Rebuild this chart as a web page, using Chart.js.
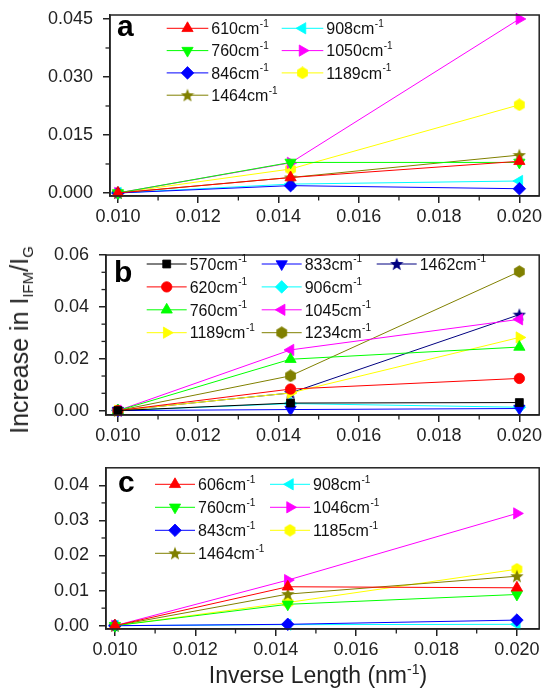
<!DOCTYPE html>
<html><head><meta charset="utf-8">
<script src="https://cdn.jsdelivr.net/npm/chart.js@4/dist/chart.umd.min.js"></script>
<style>
html,body{margin:0;padding:0;background:#fff;}
#wrap{position:relative;width:547px;height:690px;overflow:hidden;font-family:"Liberation Sans",Arial,sans-serif;color:#222;}
.cv{position:absolute;left:0;width:547px;height:230px;}
#ytitle{position:absolute;left:19px;top:340px;transform:translate(-50%,-50%) rotate(-90deg);font-size:25px;line-height:30px;white-space:nowrap;}
#ytitle sub{font-size:15px;position:relative;top:5px;vertical-align:baseline;line-height:0;}
#xtitle{position:absolute;left:318px;top:661px;transform:translateX(-50%);font-size:23px;line-height:28px;white-space:nowrap;}
#xtitle sup{font-size:14px;position:relative;top:-9px;vertical-align:baseline;line-height:0;}
</style></head>
<body><div id="wrap">
<div class="cv" style="top:0px"><canvas id="ca" width="547" height="230"></canvas></div>
<div class="cv" style="top:230px"><canvas id="cb" width="547" height="230"></canvas></div>
<div class="cv" style="top:460px"><canvas id="cc" width="547" height="230"></canvas></div>
<div id="ytitle">Increase in I<sub>IFM</sub>/I<sub>G</sub></div>
<div id="xtitle">Inverse Length (nm<sup>-1</sup>)</div>
</div>
<script>
// ---------------- data ----------------
const xValues = [0.010, 0.0143, 0.020];
const xTickValues = [0.010, 0.012, 0.014, 0.016, 0.018, 0.020];
const xTickLabels = ['0.010', '0.012', '0.014', '0.016', '0.018', '0.020'];
const xMinorValues = [0.011, 0.013, 0.015, 0.017, 0.019];

// panel a
const aNames = ['610', '760', '846', '1464', '908', '1050', '1189'];
const a610 = [0, 0.0040, 0.0082];
const a760 = [0, 0.0079, 0.0079];
const a846 = [0, 0.0019, 0.0011];
const a1464 = [0, 0.0040, 0.0098];
const a908 = [0, 0.0023, 0.0031];
const a1050 = [0, 0.0078, 0.0450];
const a1189 = [0, 0.0062, 0.0228];
const aYTickValues = [0, 0.015, 0.030, 0.045];
const aYTickLabels = ['0.000', '0.015', '0.030', '0.045'];
const aYMinor = [0.0075, 0.0225, 0.0375];

// panel b
const bNames = ['570', '620', '760', '1189', '833', '906', '1045', '1234', '1462'];
const b570 = [0, 0.0029, 0.0031];
const b620 = [0, 0.0083, 0.0124];
const b760 = [0, 0.0198, 0.0245];
const b1189 = [0, 0.0068, 0.0282];
const b833 = [0, 0.0004, 0.0008];
const b906 = [0, 0.0027, 0.0013];
const b1045 = [0, 0.0234, 0.0352];
const b1234 = [0, 0.0134, 0.0536];
const b1462 = [0, 0.0068, 0.0370];
const bYTickValues = [0, 0.02, 0.04, 0.06];
const bYTickLabels = ['0.00', '0.02', '0.04', '0.06'];
const bYMinor = [0.00667, 0.01333, 0.02667, 0.03333, 0.04667, 0.05333];

// panel c
const cNames = ['606', '760', '843', '1464', '908', '1046', '1185'];
const c606 = [0, 0.0111, 0.0108];
const c760 = [0, 0.0061, 0.0089];
const c843 = [0, 0.0004, 0.0016];
const c1464 = [0, 0.0090, 0.0141];
const c908 = [0, 0.0003, 0.0004];
const c1046 = [0, 0.0130, 0.0320];
const c1185 = [0, 0.0066, 0.0161];
const cYTickValues = [0, 0.01, 0.02, 0.03, 0.04];
const cYTickLabels = ['0.00', '0.01', '0.02', '0.03', '0.04'];
const cYMinor = [0.005, 0.015, 0.025, 0.035];

// ---------------- styles ----------------
const FONT = '"Liberation Sans", Arial, sans-serif';
Chart.defaults.font.family = FONT;
Chart.defaults.color = '#222';

function makeImg(draw, size) {
  const c = document.createElement('canvas');
  c.width = size; c.height = size;
  draw(c.getContext('2d'), size);
  return c;
}
function starImg(color) {
  return makeImg((g, s) => {
    const cx = s / 2, cy = s / 2 + 0.5, R = s / 2, r = R * 0.42;
    g.beginPath();
    for (let i = 0; i < 10; i++) {
      const a = -Math.PI / 2 + i * Math.PI / 5;
      const rr = i % 2 === 0 ? R : r;
      g.lineTo(cx + rr * Math.cos(a), cy + rr * Math.sin(a));
    }
    g.closePath(); g.fillStyle = color; g.fill();
  }, 14);
}
function hexImg(color) {
  return makeImg((g, s) => {
    const cx = s / 2, cy = s / 2, R = s / 2 - 0.3;
    g.beginPath();
    for (let i = 0; i < 6; i++) {
      const a = -Math.PI / 2 + i * Math.PI / 3;
      g.lineTo(cx + R * Math.cos(a), cy + R * Math.sin(a));
    }
    g.closePath(); g.fillStyle = color; g.fill();
  }, 13);
}

const SHAPES = {
  up:    {pointStyle: 'triangle', rotation: 0, radius: 6.5},
  down:  {pointStyle: 'triangle', rotation: 180, radius: 6.5},
  left:  {pointStyle: 'triangle', rotation: 270, radius: 6.5},
  right: {pointStyle: 'triangle', rotation: 90, radius: 6.5},
  diamond: {pointStyle: 'rectRot', rotation: 0, radius: 6.3},
  square: {pointStyle: 'rect', rotation: 0, radius: 5.6},
  circle: {pointStyle: 'circle', rotation: 0, radius: 5.2},
  star: {img: starImg, rotation: 0, radius: 7},
  hex: {img: hexImg, rotation: 0, radius: 6.5}
};

function ds(name, values, color, shape) {
  const sh = SHAPES[shape];
  const ps = sh.img ? sh.img(color) : sh.pointStyle;
  return {
    label: name,
    data: values.map((v, i) => ({x: xValues[i], y: v})),
    borderColor: color,
    backgroundColor: color,
    borderWidth: 1,
    pointStyle: ps,
    pointRadius: sh.radius,
    pointRotation: sh.rotation,
    pointBackgroundColor: color,
    pointBorderColor: color,
    pointBorderWidth: 0.8,
    pointHoverRadius: sh.radius,
    tension: 0,
    clip: false
  };
}

const decor = {
  id: 'decor',
  afterDraw(chart, args, o) {
    const ctx = chart.ctx, ca = chart.chartArea;
    const xs = chart.scales.x, ys = chart.scales.y;
    ctx.save();
    ctx.strokeStyle = '#222';
    ctx.lineWidth = 1.3;
    o.xMinor.forEach(v => {
      const px = xs.getPixelForValue(v);
      ctx.beginPath(); ctx.moveTo(px, ca.bottom); ctx.lineTo(px, ca.bottom + 4.5); ctx.stroke();
    });
    o.yMinor.forEach(v => {
      const py = ys.getPixelForValue(v);
      ctx.beginPath(); ctx.moveTo(ca.left, py); ctx.lineTo(ca.left - 4.5, py); ctx.stroke();
    });
    ctx.lineWidth = 1.5;
    ctx.strokeRect(ca.left, ca.top, ca.right - ca.left, ca.bottom - ca.top);
    // panel letter
    ctx.fillStyle = '#000';
    ctx.font = 'bold 30px ' + FONT;
    ctx.textBaseline = 'alphabetic';
    ctx.fillText(o.letter, o.letterX, o.letterY);
    // legend
    chart.data.datasets.forEach((d, i) => {
      const col = Math.floor(i / o.rows), row = i % o.rows;
      const x0 = o.legX + col * o.colW, y = o.legY + row * o.rowH;
      ctx.strokeStyle = d.borderColor; ctx.lineWidth = 1;
      ctx.beginPath(); ctx.moveTo(x0, y); ctx.lineTo(x0 + o.lineLen, y); ctx.stroke();
      ctx.fillStyle = d.pointBackgroundColor; ctx.strokeStyle = d.pointBorderColor; ctx.lineWidth = d.pointBorderWidth;
      if (Chart.helpers && Chart.helpers.drawPoint) {
        Chart.helpers.drawPoint(ctx, {pointStyle: d.pointStyle, rotation: d.pointRotation, radius: d.pointRadius, borderWidth: d.pointBorderWidth}, x0 + o.lineLen / 2, y);
      } else {
        ctx.beginPath(); ctx.arc(x0 + o.lineLen / 2, y, d.pointRadius, 0, Math.PI * 2); ctx.fill();
      }
      const tx = x0 + o.lineLen + 3;
      ctx.fillStyle = '#111';
      ctx.font = '16px ' + FONT;
      const base = d.label + 'cm';
      ctx.fillText(base, tx, y + 5.7);
      const w = ctx.measureText(base).width;
      ctx.font = '10px ' + FONT;
      ctx.fillText('-1', tx + w + 0.5, y - 1.6);
    });
    ctx.restore();
  }
};

function makeChart(id, datasets, cfg) {
  return new Chart(document.getElementById(id), {
    type: 'line',
    data: {datasets},
    options: {
      responsive: false,
      animation: false,
      events: [],
      layout: {padding: {top: cfg.padTop, right: 4, left: 0, bottom: 0}},
      plugins: {legend: {display: false}, tooltip: {enabled: false}, decor: cfg.decor},
      scales: {
        x: {
          type: 'linear', min: cfg.xMin, max: cfg.xMax,
          afterBuildTicks: s => { s.ticks = xTickValues.map(v => ({value: v})); },
          afterFit: s => { s.height = cfg.xH; s.paddingLeft = 0; s.paddingRight = 0; },
          ticks: {callback: (v, i) => xTickLabels[i], font: {size: 18}, color: '#222', padding: 3, maxRotation: 0, autoSkip: false},
          grid: {drawOnChartArea: false, drawTicks: true, tickLength: 7, color: '#222', lineWidth: 1.5},
          border: {display: true, color: '#222', width: 1.5}
        },
        y: {
          type: 'linear', min: cfg.yMin, max: cfg.yMax,
          afterBuildTicks: s => { s.ticks = cfg.yTicks.map(v => ({value: v})); },
          afterFit: s => { s.width = cfg.yW; s.paddingTop = 0; s.paddingBottom = 0; },
          ticks: {callback: (v, i) => cfg.yLabels[i], font: {size: 18}, color: '#222', padding: 10, autoSkip: false},
          grid: {drawOnChartArea: false, drawTicks: true, tickLength: 7, color: '#222', lineWidth: 1.5},
          border: {display: true, color: '#222', width: 1.5}
        }
      }
    },
    plugins: [decor]
  });
}

const RED = '#ff0000', GREEN = '#00ff00', BLUE = '#0000ff', OLIVE = '#808000', CYAN = '#00ffff',
      MAGENTA = '#ff00ff', YELLOW = '#ffff00', BLACK = '#000000', NAVY = '#000080';

makeChart('ca', [
  ds(aNames[0], a610, RED, 'up'),
  ds(aNames[1], a760, GREEN, 'down'),
  ds(aNames[2], a846, BLUE, 'diamond'),
  ds(aNames[3], a1464, OLIVE, 'star'),
  ds(aNames[4], a908, CYAN, 'left'),
  ds(aNames[5], a1050, MAGENTA, 'right'),
  ds(aNames[6], a1189, YELLOW, 'hex')
], {
  padTop: 15, xH: 34, yW: 110, xMin: 0.009802, xMax: 0.020494, yMin: -0.00078, yMax: 0.04603,
  yTicks: aYTickValues, yLabels: aYTickLabels,
  decor: {xMinor: xMinorValues, yMinor: aYMinor, letter: 'a', letterX: 117, letterY: 36,
          rows: 4, legX: 166.7, legY: 28.3, colW: 115, rowH: 22.3, lineLen: 41.6}
});

makeChart('cb', [
  ds(bNames[0], b570, BLACK, 'square'),
  ds(bNames[1], b620, RED, 'circle'),
  ds(bNames[2], b760, GREEN, 'up'),
  ds(bNames[3], b1189, YELLOW, 'right'),
  ds(bNames[4], b833, BLUE, 'down'),
  ds(bNames[5], b906, CYAN, 'diamond'),
  ds(bNames[6], b1045, MAGENTA, 'left'),
  ds(bNames[7], b1234, OLIVE, 'hex'),
  ds(bNames[8], b1462, NAVY, 'star')
], {
  padTop: 25, xH: 45, yW: 106, xMin: 0.009704, xMax: 0.020494, yMin: -0.0017, yMax: 0.06,
  yTicks: bYTickValues, yLabels: bYTickLabels,
  decor: {xMinor: xMinorValues, yMinor: bYMinor, letter: 'b', letterX: 114, letterY: 51.7,
          rows: 4, legX: 146.7, legY: 34, colW: 115, rowH: 22.9, lineLen: 40}
});

makeChart('cc', [
  ds(cNames[0], c606, RED, 'up'),
  ds(cNames[1], c760, GREEN, 'down'),
  ds(cNames[2], c843, BLUE, 'diamond'),
  ds(cNames[3], c1464, OLIVE, 'star'),
  ds(cNames[4], c908, CYAN, 'left'),
  ds(cNames[5], c1046, MAGENTA, 'right'),
  ds(cNames[6], c1185, YELLOW, 'hex')
], {
  padTop: 7, xH: 61, yW: 106, xMin: 0.009778, xMax: 0.020555, yMin: -0.00094, yMax: 0.045,
  yTicks: cYTickValues, yLabels: cYTickLabels,
  decor: {xMinor: xMinorValues, yMinor: cYMinor, letter: 'c', letterX: 118, letterY: 31.7,
          rows: 4, legX: 155, legY: 24.3, colW: 115, rowH: 23, lineLen: 40}
});
</script>
</body></html>
